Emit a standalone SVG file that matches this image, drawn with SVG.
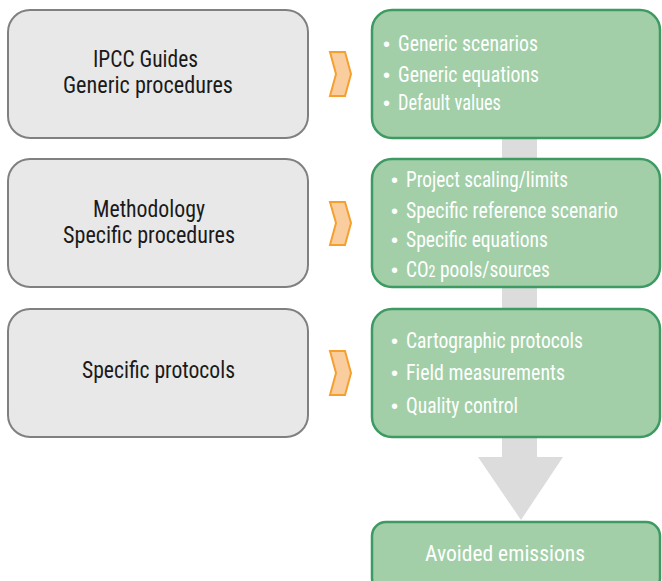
<svg xmlns="http://www.w3.org/2000/svg" width="662" height="581" viewBox="0 0 662 581">
<style>
.gbox{fill:#e8e8e8;stroke:#808080;stroke-width:2}
.grn{fill:#a2cfa8;stroke:#3d9a62;stroke-width:2.5}
.chev{fill:#f9cd9e;stroke:#f5a02e;stroke-width:2;stroke-linejoin:miter}
.arrow{fill:#dcdcdc}
.dt{font-family:"Roboto Condensed","Liberation Sans Narrow","Liberation Sans",Arial,sans-serif;font-size:23px;fill:#1a1a1a}
.wt{font-family:"Roboto Condensed","Liberation Sans Narrow","Liberation Sans",Arial,sans-serif;font-size:22px;fill:#ffffff}
.bl{font-family:"Liberation Sans",Arial,sans-serif;font-size:20px;fill:#ffffff}
</style>
<g id="connectors">
<path class="arrow" d="M502,130 H537 V457 H563 L521,520 L478,457 H502 Z"/>
<polygon class="chev" points="330,52 345,52 351,74 345,96 330,96 336,74"/>
<polygon class="chev" points="330,202 345,202 351,223 345,245 330,245 336,223"/>
<polygon class="chev" points="330,351 345,351 351,373 345,395 330,395 336,373"/>
</g>
<g id="ipcc">
<rect class="gbox" x="8" y="10" width="300" height="128" rx="22"/>
<text class="dt" x="93" y="67" textLength="105" lengthAdjust="spacingAndGlyphs">IPCC Guides</text>
<text class="dt" x="63" y="93" textLength="170" lengthAdjust="spacingAndGlyphs">Generic procedures</text>
</g>
<g id="methodology">
<rect class="gbox" x="8" y="159" width="300" height="128" rx="22"/>
<text class="dt" x="93" y="217" textLength="112" lengthAdjust="spacingAndGlyphs">Methodology</text>
<text class="dt" x="63" y="243" textLength="172" lengthAdjust="spacingAndGlyphs">Specific procedures</text>
</g>
<g id="protocols">
<rect class="gbox" x="8" y="309" width="300" height="128" rx="22"/>
<text class="dt" x="82" y="378" textLength="153" lengthAdjust="spacingAndGlyphs">Specific protocols</text>
</g>
<g id="generic">
<rect class="grn" x="372" y="10" width="288" height="128" rx="20"/>
<text class="bl" x="383" y="51">•</text>
<text class="wt" x="398" y="51" textLength="140" lengthAdjust="spacingAndGlyphs">Generic scenarios</text>
<text class="bl" x="383" y="82">•</text>
<text class="wt" x="398" y="82" textLength="141" lengthAdjust="spacingAndGlyphs">Generic equations</text>
<text class="bl" x="383" y="110">•</text>
<text class="wt" x="398" y="110" textLength="103" lengthAdjust="spacingAndGlyphs">Default values</text>
</g>
<g id="specific">
<rect class="grn" x="372" y="159" width="288" height="128" rx="20"/>
<text class="bl" x="391" y="187">•</text>
<text class="wt" x="406" y="187" textLength="162" lengthAdjust="spacingAndGlyphs">Project scaling/limits</text>
<text class="bl" x="391" y="218">•</text>
<text class="wt" x="406" y="218" textLength="212" lengthAdjust="spacingAndGlyphs">Specific reference scenario</text>
<text class="bl" x="391" y="247">•</text>
<text class="wt" x="406" y="247" textLength="142" lengthAdjust="spacingAndGlyphs">Specific equations</text>
<text class="bl" x="391" y="277">•</text>
<text class="wt" transform="translate(406,277) scale(0.88,1)" x="0" y="0">CO<tspan font-size="16">2</tspan> pools/sources</text>
</g>
<g id="protocol-items">
<rect class="grn" x="372" y="309" width="288" height="128" rx="20"/>
<text class="bl" x="391" y="348">•</text>
<text class="wt" x="406" y="348" textLength="177" lengthAdjust="spacingAndGlyphs">Cartographic protocols</text>
<text class="bl" x="391" y="380">•</text>
<text class="wt" x="406" y="380" textLength="159" lengthAdjust="spacingAndGlyphs">Field measurements</text>
<text class="bl" x="391" y="413">•</text>
<text class="wt" x="406" y="413" textLength="112" lengthAdjust="spacingAndGlyphs">Quality control</text>
</g>
<g id="avoided">
<rect class="grn" x="372" y="522" width="288" height="70" rx="14"/>
<text class="wt" x="425" y="561" font-size="24" textLength="160" lengthAdjust="spacingAndGlyphs">Avoided emissions</text>
</g>
</svg>
